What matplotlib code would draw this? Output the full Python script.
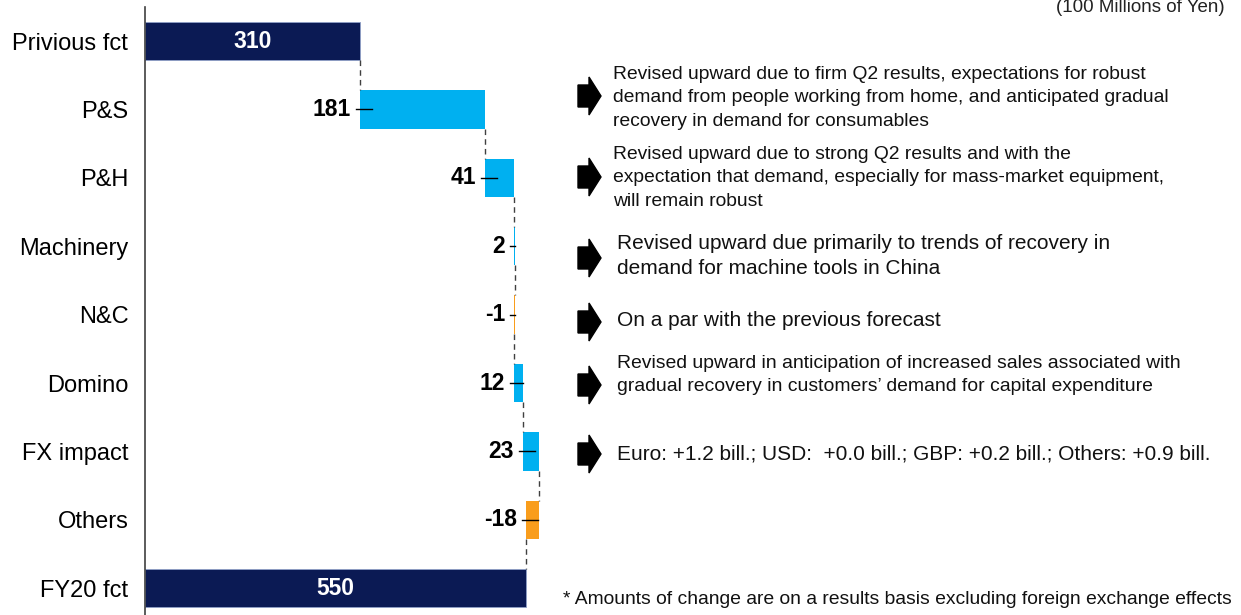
import matplotlib.pyplot as plt
from matplotlib.patches import Polygon
import numpy as np

plt.rcParams['font.family'] = ['Liberation Sans', 'DejaVu Sans']

categories = ['Privious fct', 'P&S', 'P&H', 'Machinery', 'N&C', 'Domino',
              'FX impact', 'Others', 'FY20 fct']
prev_fct = 310
fy20_fct = 550
changes = [181, 41, 2, -1, 12, 23, -18]

notes = [
    "Revised upward due to firm Q2 results, expectations for robust\n"
    "demand from people working from home, and anticipated gradual\n"
    "recovery in demand for consumables",
    "Revised upward due to strong Q2 results and with the\n"
    "expectation that demand, especially for mass-market equipment,\n"
    "will remain robust",
    "Revised upward due primarily to trends of recovery in\n"
    "demand for machine tools in China",
    "On a par with the previous forecast",
    "Revised upward in anticipation of increased sales associated with\n"
    "gradual recovery in customers\u2019 demand for capital expenditure",
    "Euro: +1.2 bill.; USD:  +0.0 bill.; GBP: +0.2 bill.; Others: +0.9 bill.",
]
footnote = "* Amounts of change are on a results basis excluding foreign exchange effects"
unit_text = "(100 Millions of Yen)"

NAVY = '#0B1A54'
CYAN = '#00B0F0'
ORANGE = '#F99D1C'

W, H = 1241, 615
fig = plt.figure(figsize=(W / 100, H / 100), dpi=100)

# main waterfall axes, pixel-aligned
px_per_unit = 0.693
ax_left, ax_top = 145, 7
ax = fig.add_axes([ax_left / W, 0, 1 - ax_left / W, (H - ax_top) / H])
row0, row_step = 41, 68.4
ax.set_ylim((H - row0) / row_step, (ax_top - row0) / row_step)
ax.set_xlim(0, (W - ax_left) / px_per_unit)
px = 1 / px_per_unit  # one pixel in data units

bar_h = 0.56
n = len(categories)
y = np.arange(n)

# totals
ax.barh(0, prev_fct, height=bar_h, color=NAVY, edgecolor='#8FA0C8', linewidth=0.6)
ax.barh(n - 1, fy20_fct, height=bar_h, color=NAVY, edgecolor='#8FA0C8', linewidth=0.6)
ax.text(prev_fct / 2, 0, str(prev_fct), color='white', fontsize=16.5,
        fontweight='bold', ha='center', va='center')
ax.text(fy20_fct / 2, n - 1, str(fy20_fct), color='white', fontsize=16.5,
        fontweight='bold', ha='center', va='center')

running = prev_fct
lines_x = [running]
for i, ch in enumerate(changes, start=1):
    start = running
    end = running + ch
    left, right = min(start, end), max(start, end)
    col = CYAN if ch >= 0 else ORANGE
    ax.barh(i, abs(ch), left=left, height=bar_h, color=col, linewidth=0)
    ax.plot([left - 4 * px, min(left + 12 * px, right)], [i, i], color='black', lw=1)
    ax.annotate(str(ch), (left, i), xytext=(-9, 0), textcoords='offset pixels',
                ha='right', va='center', fontsize=16.5, fontweight='bold')
    running = end
    lines_x.append(running)

# dashed connectors
for i, xv in enumerate(lines_x):
    ax.plot([xv, xv], [i + bar_h / 2, i + 1 - bar_h / 2], color='#404040',
            lw=1, linestyle=(0, (4, 3)))

ax.set_yticks(y)
ax.set_yticklabels(categories, fontsize=17)
ax.tick_params(axis='y', length=0, pad=12)
ax.set_xticks([])
for s in ['top', 'right', 'bottom']:
    ax.spines[s].set_visible(False)
ax.spines['left'].set_color('#404040')
ax.spines['left'].set_linewidth(1.2)

# overlay for explanatory notes
ov = fig.add_axes([0, 0, 1, 1])
ov.set_xlim(0, W)
ov.set_ylim(H, 0)
ov.axis('off')
ov.patch.set_alpha(0)

# (x, y centre, font size, line spacing)
note_pos = [(613, 98, 13.9, 1.48), (613, 178, 13.9, 1.48), (617, 256, 15, 1.37),
            (617, 320, 15, 1.2), (617, 375, 13.95, 1.42), (617, 454, 15, 1.2)]
arrow_y = [96, 177, 258, 322, 385, 454]


def block_arrow(yc):
    pts = [(578, yc - 11), (589, yc - 11), (589, yc - 19), (601, yc),
           (589, yc + 19), (589, yc + 11), (578, yc + 11)]
    ov.add_patch(Polygon(pts, closed=True, color='black'))


for txt, (xp, yp, fs, ls), ya in zip(notes, note_pos, arrow_y):
    block_arrow(ya)
    ov.text(xp, yp, txt, fontsize=fs, ha='left', va='center',
            linespacing=ls, color='#111111')

ov.text(563, 600, footnote, fontsize=13.9, ha='left', va='center', color='#111111')
ov.text(1225, -1, unit_text, fontsize=13.5, ha='right', va='top', color='#222222')

plt.savefig('out.png', dpi=100)
